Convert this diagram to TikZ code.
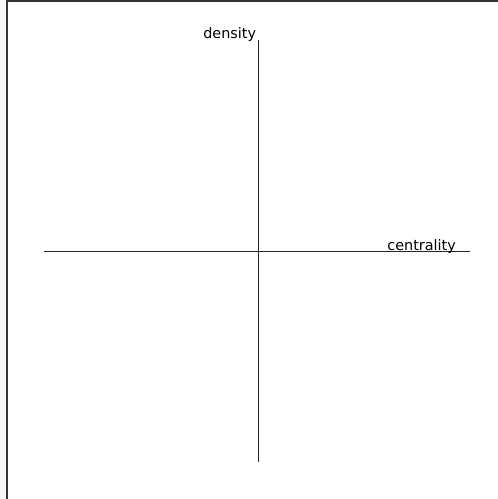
\documentclass[tikz,border=0pt]{standalone}
\usepackage{fontspec}
\setmainfont{DejaVu Sans}
\usepackage{tikz}

\begin{document}
\begin{tikzpicture}[
  x=0.5pt, y=-0.5pt,
  every node/.style={font=\fontsize{7.2pt}{8pt}\selectfont, inner sep=0pt},
  axis/.style={line width=0.5pt, black!85},
  frame/.style={line width=0.6pt, black!80}
]
\useasboundingbox (0,0) rectangle (498,499);

% --- Outer frame (cut off at right and bottom) ---
\fill[gray!7] (0,0) rectangle (6.5,499);
\draw[frame] (7,499) -- (7,1) -- (498,1);

% --- Axes ---
\coordinate (ytop) at (258,40);
\coordinate (ybot) at (258,462);
\coordinate (xleft) at (44,251);
\coordinate (xright) at (470,251);

\draw[axis] (ytop) -- (ybot);
\draw[axis] (xleft) -- (xright);

% --- Labels ---
\node[anchor=base east] (density) at (256.5,38.3) {density};
\node[anchor=base west] (centrality) at (387,250.7) {centrality};

\end{tikzpicture}
\end{document}
